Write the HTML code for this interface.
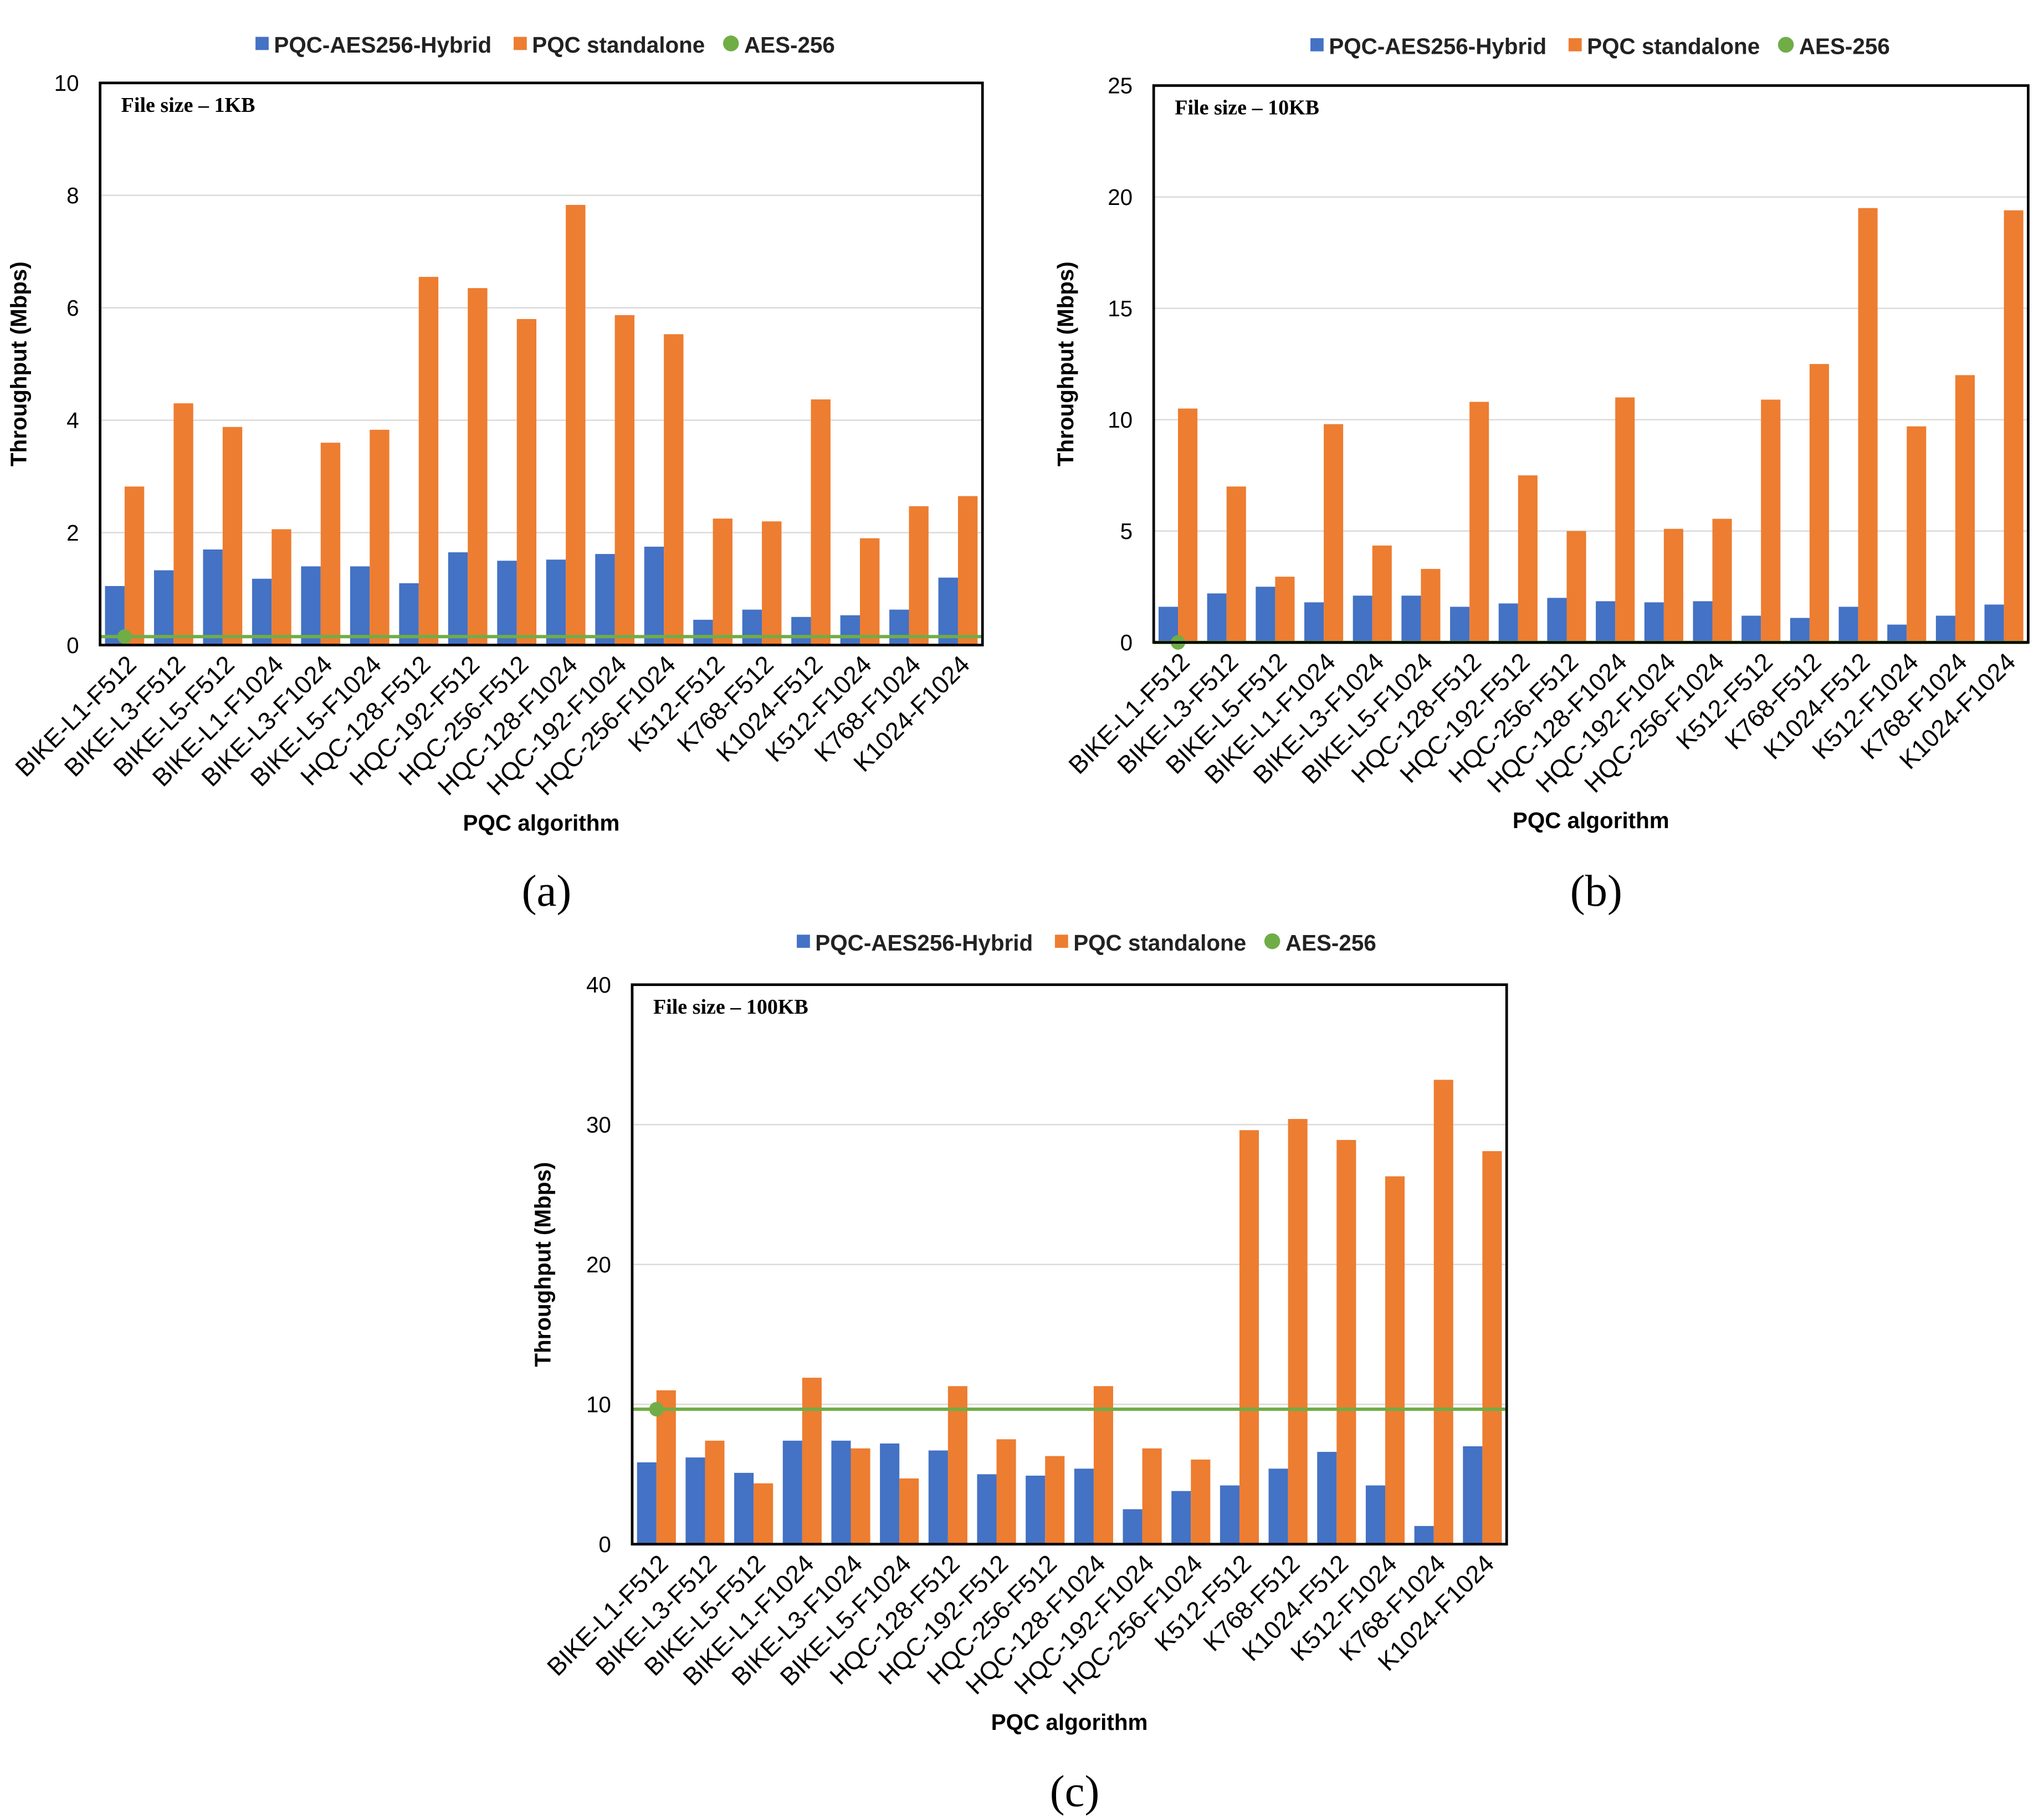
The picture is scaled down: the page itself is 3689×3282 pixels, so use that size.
<!DOCTYPE html>
<html><head><meta charset="utf-8"><style>
html,body{margin:0;padding:0;background:#fff}
svg{display:block}
</style></head><body>
<svg id="fig" width="3689" height="3282" viewBox="0 0 1552 1381" preserveAspectRatio="none" xmlns="http://www.w3.org/2000/svg" font-family="Liberation Sans, sans-serif"></svg>
<script>
const categories = ["BIKE-L1-F512","BIKE-L3-F512","BIKE-L5-F512","BIKE-L1-F1024","BIKE-L3-F1024","BIKE-L5-F1024","HQC-128-F512","HQC-192-F512","HQC-256-F512","HQC-128-F1024","HQC-192-F1024","HQC-256-F1024","K512-F512","K768-F512","K1024-F512","K512-F1024","K768-F1024","K1024-F1024"];
const hybridA = [1.05,1.33,1.7,1.18,1.4,1.4,1.1,1.65,1.5,1.52,1.62,1.75,0.45,0.63,0.5,0.53,0.63,1.2];
const standaloneA = [2.82,4.3,3.88,2.06,3.6,3.83,6.55,6.35,5.8,7.83,5.87,5.53,2.25,2.2,4.37,1.9,2.47,2.65];
const aesA = 0.15;
const ticksA = [0,2,4,6,8,10];
const hybridB = [1.6,2.2,2.5,1.8,2.1,2.1,1.6,1.75,2.0,1.85,1.8,1.85,1.2,1.1,1.6,0.8,1.2,1.7];
const standaloneB = [10.5,7.0,2.95,9.8,4.35,3.3,10.8,7.5,5.0,11.0,5.1,5.55,10.9,12.5,19.5,9.7,12.0,19.4];
const aesB = 0.0;
const ticksB = [0,5,10,15,20,25];
const hybridC = [5.85,6.2,5.1,7.4,7.4,7.2,6.7,5.0,4.9,5.4,2.5,3.8,4.2,5.4,6.6,4.2,1.3,7.0];
const standaloneC = [11.0,7.4,4.35,11.9,6.85,4.7,11.3,7.5,6.3,11.3,6.85,6.05,29.6,30.4,28.9,26.3,33.2,28.1];
const aesC = 9.65;
const ticksC = [0,10,20,30,40];

const NS="http://www.w3.org/2000/svg";
const svg=document.getElementById('fig');
function el(tag,attrs,parent,txt){const e=document.createElementNS(NS,tag);for(const k in attrs)e.setAttribute(k,attrs[k]);if(txt!==undefined)e.textContent=txt;(parent||svg).appendChild(e);return e;}
const SERIF='font-family:"Liberation Serif",serif';

function panel(id,L,R,T,B,max,ticks,hyb,std,aes,fileLabel,legY,legX,ylabX,caption,capY){
  const g=el('g',{});
  
  
  const y=v=>B-(v/max)*(B-T);
  const w=(R-L)/categories.length;
  const x=i=>L+i*w;
  ticks.forEach(t=>{
    if(t>0&&t<max){const gl=el('line',{x1:L,x2:R,y1:y(t),y2:y(t),stroke:'#d9d9d9','stroke-width':1},g);
      
      }
    const tl=el('text',{x:L-16,y:y(t)+6,'text-anchor':'end','font-size':17,fill:'#000'},g,String(t));
    
    
  });
  categories.forEach((c,i)=>{
    const hb=el('rect',{x:x(i)+0.1*w,y:y(hyb[i]),width:0.4*w,height:B-y(hyb[i]),fill:'#4472c4'},g);
    
    
    const sb=el('rect',{x:x(i)+0.5*w,y:y(std[i]),width:0.4*w,height:B-y(std[i]),fill:'#ed7d31'},g);
    
    
    const cx=x(i)+0.5*w+10, cy=B+16;
    const lt=el('text',{x:cx,y:cy,'text-anchor':'end','font-size':19,transform:`rotate(-45 ${cx} ${cy})`},g,c);
    
    
  });
  const al=el('line',{x1:L,x2:R,y1:y(aes),y2:y(aes),stroke:'#70ad47','stroke-width':2.5},g);
  
  
  const ad=el('circle',{cx:x(0)+0.5*w,cy:y(aes),r:5.5,fill:'#70ad47'},g);
  
  
  const bx=el('rect',{x:L,y:T,width:R-L,height:B-T,fill:'none',stroke:'#000','stroke-width':2},g);
  
  
  const fl=el('text',{x:L+16,y:T+22,'font-size':16,'font-weight':'bold',style:SERIF},g,fileLabel);
  
  
  const ym=(T+B)/2;
  const yl=el('text',{x:ylabX,y:ym,'text-anchor':'middle','font-size':17,'font-weight':'bold',transform:`rotate(-90 ${ylabX} ${ym})`},g,'Throughput (Mbps)');
  
  
  const xm=(L+R)/2;
  const xl=el('text',{x:xm,y:B+141,'text-anchor':'middle','font-size':17,'font-weight':'bold'},g,'PQC algorithm');
  
  
  const cp=el('text',{x:xm+4,y:capY,'text-anchor':'middle','font-size':34,style:SERIF},g,caption);
  
  
  const lg=el('g',{},g);
  
  
  const r1=el('rect',{x:legX,y:legY-6,width:10,height:10,fill:'#4472c4'},lg);
  
  
  const t1=el('text',{x:legX+14,y:legY+6,'font-size':17,'font-weight':'bold',fill:'#222'},lg,'PQC-AES256-Hybrid');
  
  
  const r2=el('rect',{x:legX+196,y:legY-6,width:10,height:10,fill:'#ed7d31'},lg);
  
  
  const t2=el('text',{x:legX+210,y:legY+6,'font-size':17,'font-weight':'bold',fill:'#222'},lg,'PQC standalone');
  
  
  const c3=el('circle',{cx:legX+361,cy:legY-1,r:6,fill:'#70ad47'},lg);
  
  
  const t3=el('text',{x:legX+371,y:legY+6,'font-size':17,'font-weight':'bold',fill:'#222'},lg,'AES-256');
  
  
}
panel('a',76,746,63,490,10,ticksA,hybridA,standaloneA,aesA,'File size – 1KB',34,194,20,'(a)',688);
panel('b',876,1540,65,488,25,ticksB,hybridB,standaloneB,aesB,'File size – 10KB',35,995,815,'(b)',688);
panel('c',480,1144,748,1173,40,ticksC,hybridC,standaloneC,aesC,'File size – 100KB',716,605,418,'(c)',1372);
</script>
</body></html>
